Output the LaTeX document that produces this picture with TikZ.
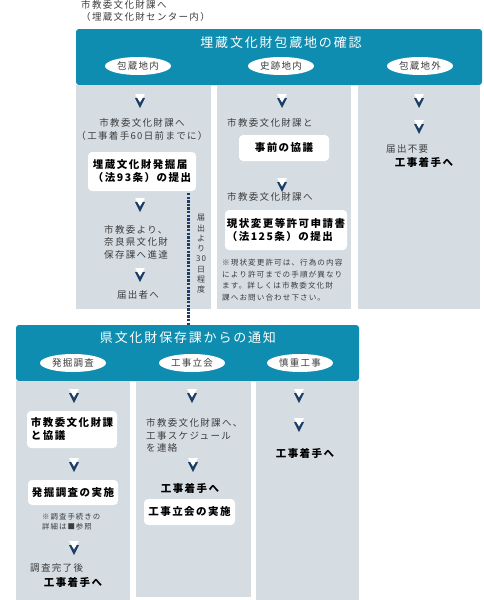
\documentclass[tikz,border=0pt]{standalone}
\usepackage{fontspec}
\setmainfont{Noto Sans CJK JP}
\newfontfamily\jpfont[LetterSpace=14]{Noto Sans CJK JP}
\usepackage{tikz}
\usetikzlibrary{shapes.geometric,positioning,calc}
\definecolor{hdrblue}{HTML}{0F8DB0}
\definecolor{colgray}{HTML}{D5DDE3}
\definecolor{navy}{HTML}{1B3D66}
\definecolor{txtgray}{HTML}{3C3C3C}
\tikzset{
hdr/.style = {fill=hdrblue, rounded corners=3pt},
col/.style = {fill=colgray},
title/.style = {text=white, inner sep=0pt, font=\jpfont\fontsize{13}{15}\selectfont},
oval/.style = {fill=white, ellipse, minimum width=66pt, minimum height=18pt, inner sep=0pt, text=txtgray, font=\jpfont\fontsize{9.5}{11}\selectfont},
txt/.style = {align=left, inner sep=0pt, text=txtgray, font=\jpfont\fontsize{9.5}{12.5}\selectfont},
note/.style = {align=left, inner sep=0pt, text=txtgray, font=\jpfont\fontsize{7.6}{11.5}\selectfont},
vnote/.style = {align=center, inner sep=0pt, text=txtgray, font=\jpfont\fontsize{8}{10.3}\selectfont},
box/.style = {fill=white, rounded corners=4pt, align=left, inner sep=0pt, font=\jpfont\bfseries\fontsize{10.5}{13}\selectfont},
btxt/.style = {inner sep=0pt, font=\jpfont\bfseries\fontsize{10.5}{13}\selectfont},
wait/.style = {draw=navy, line width=3pt, dash pattern=on 2.4pt off 1.2pt},
chev/.style = {minimum width=10pt, minimum height=14pt, inner sep=0pt, outer sep=0pt,
  path picture={
    \fill[navy] ($(path picture bounding box.north west)+(0,-4pt)$) -- ($(path picture bounding box.north east)+(0,-4pt)$) -- (path picture bounding box.south) -- cycle;
    \fill[white] (path picture bounding box.north west) -- (path picture bounding box.north east) -- ($(path picture bounding box.north)+(0,-8.5pt)$) -- cycle;
  }}
}
\begin{document}
\begin{tikzpicture}[x=1pt, y=-1pt]
    \useasboundingbox (0,0) rectangle (483,600);
    \node [txt, anchor=west] (dest) at (81,11) {市教委文化財課へ\\（埋蔵文化財センター内）};

    \node [hdr, minimum width=406pt, minimum height=56pt] (hdr1) at (279,57) {};
    \fill [col] (76,85) rectangle (211,309);
    \fill [col] (217,85) rectangle (351,309);
    \fill [col] (358,85) rectangle (480,309);
    \node [title] (t1) at (281,43) {埋蔵文化財包蔵地の確認};
    \node [oval] (in) at (138,66) {包蔵地内};
    \node [oval] (site) at (281,66) {史跡地内};
    \node [oval] (out) at (420,66) {包蔵地外};

    \node [chev] (a1) at (140,101) {};
    \node [txt, align=center] (a1t) at (142,129.5) {市教委文化財課へ\\（工事着手60日前までに）};
    \node [box, minimum width=108pt, minimum height=39pt] (todoke) at (142,171.5) {埋蔵文化財発掘届\\（法93条）の提出};
    \node [chev] (a2) at (140,205) {};
    \node [txt, anchor=west] (a2t) at (104,242) {市教委より、\\奈良県文化財\\保存課へ進達};
    \node [chev] (a3) at (140,275) {};
    \node [txt] (a3t) at (138,295) {届出者へ};

    \node [chev] (b1) at (282,101) {};
    \node [txt, anchor=west] (b1t) at (227,123) {市教委文化財課と};
    \node [box, minimum width=90pt, minimum height=26pt] (kyogi) at (284,148) {事前の協議};
    \node [chev] (b2) at (282,185) {};
    \node [txt, anchor=west] (b2t) at (227,197) {市教委文化財課へ};
    \node [box, minimum width=122pt, minimum height=40pt] (shinsei) at (286,230) {現状変更等許可申請書\\（法125条）の提出};
    \node [note, anchor=west] (b2n) at (222,280) {※現状変更許可は、行為の内容\\により許可までの手順が異なり\\ます。詳しくは市教委文化財\\課へお問い合わせ下さい。};

    \node [chev] (c1) at (419,101) {};
    \node [chev] (c2) at (419,127) {};
    \node [txt, anchor=west] (c2t) at (386,149) {届出不要};
    \node [btxt] (c3) at (424,163) {工事着手へ};

    \node [hdr, minimum width=343pt, minimum height=56pt] (hdr2) at (187.5,353) {};
    \fill [col] (16,381) rectangle (130,600);
    \fill [col] (136,381) rectangle (251,597);
    \fill [col] (256,381) rectangle (359,600);
    \node [title] (t2) at (188,338) {県文化財保存課からの通知};
    \node [oval] (dig) at (73,363) {発掘調査};
    \node [oval] (watch) at (192,363) {工事立会};
    \node [oval] (care) at (300,363) {慎重工事};

    \coordinate (d0) at (188,193);
    \draw [wait] (d0) -- (d0 |- hdr2.north);
    \node [vnote] (days) at (201,254) {届\\出\\よ\\り\\30\\日\\程\\度};

    \node [chev] (p1) at (74,396) {};
    \node [box, minimum width=90pt, minimum height=37pt] (p1b) at (72,429.5) {市教委文化財課\\と協議};
    \node [chev] (p2) at (74,465) {};
    \node [box, minimum width=90pt, minimum height=25pt] (p2b) at (73,492.5) {発掘調査の実施};
    \node [note, anchor=west, font=\jpfont\fontsize{7.4}{10}\selectfont] (p2n) at (42,522) {※調査手続きの\\詳細は■参照};
    \node [chev] (p3) at (74,548) {};
    \node [txt, anchor=west] (p3t) at (30,568) {調査完了後};
    \node [btxt] (p4) at (73,582) {工事着手へ};

    \node [chev] (q1) at (192,396) {};
    \node [txt, anchor=west] (q1t) at (146,435.5) {市教委文化財課へ、\\工事スケジュール\\を連絡};
    \node [chev] (q2) at (193,465) {};
    \node [btxt] (q3) at (190,488) {工事着手へ};
    \node [box, minimum width=91pt, minimum height=26pt] (q3b) at (189.5,512) {工事立会の実施};

    \node [chev] (r1) at (299,396) {};
    \node [chev] (r2) at (299,425) {};
    \node [btxt] (r3) at (305,453) {工事着手へ};
\end{tikzpicture}
\end{document}
